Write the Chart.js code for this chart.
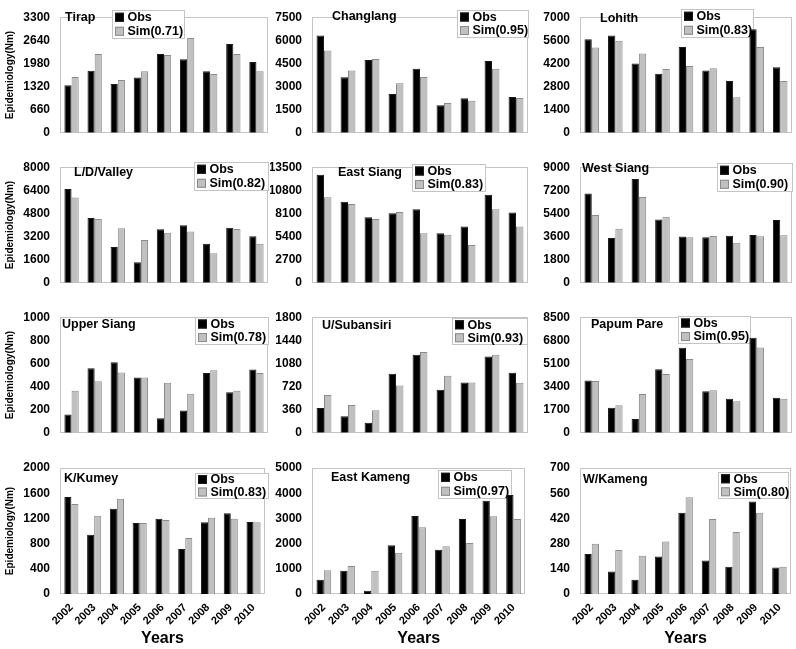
<!DOCTYPE html>
<html><head><meta charset="utf-8">
<script src="https://cdn.jsdelivr.net/npm/chart.js@4.4.0/dist/chart.umd.min.js"></script>
<style>
html,body{margin:0;padding:0;background:#fff;}
#wrap{position:relative;width:796px;height:649px;overflow:hidden;background:#fff;}
.cell{position:absolute;}
canvas{display:block;}
</style></head><body><div id="wrap"></div>
<script>
const years = ['2002','2003','2004','2005','2006','2007','2008','2009','2010'];
const districts = ['Tirap','Changlang','Lohith','L/D/Valley','East Siang','West Siang','Upper Siang','U/Subansiri','Papum Pare','K/Kumey','East Kameng','W/Kameng'];
const simR = ['0.71','0.95','0.83','0.82','0.83','0.90','0.78','0.93','0.95','0.83','0.97','0.80'];
const yMax = [3300,7500,7000,8000,13500,9000,1000,1800,8500,2000,5000,700];

const tirapObs = [1357,1768,1392,1576,2250,2101,1759,2538,2022];
const tirapSim = [1593,2250,1506,1759,2223,2705,1681,2250,1759];
const changlangObs = [6319,3602,4724,2520,4154,1791,2244,4665,2323];
const changlangSim = [5335,4035,4783,3209,3622,1929,2087,4154,2264];
const lohithObs = [5659,5898,4189,3583,5199,3766,3142,6265,3969];
const lohithSim = [5163,5567,4795,3858,4042,3913,2150,5199,3142];
const ldValleyObs = [6497,4487,2476,1418,3704,3979,2709,3810,3217];
const ldValleySim = [5905,4423,3767,2963,3471,3556,2053,3725,2709];
const eastSiangObs = [12605,9454,7663,8129,8594,5801,6589,10277,8200];
const eastSiangSim = [9991,9203,7448,8272,5801,5622,4405,8594,6589];
const westSiangObs = [6960,3480,8088,4920,3600,3552,3672,3720,4896];
const westSiangSim = [5280,4200,6672,5136,3552,3648,3120,3624,3696];
const upperSiangObs = [158,558,611,479,126,192,518,350,547];
const upperSiangSim = [363,447,521,479,434,337,542,363,518];
const uSubansiriObs = [385,256,157,921,1216,670,784,1187,936];
const uSubansiriSim = [589,432,351,736,1259,888,784,1216,779];
const papumPareObs = [3845,1844,1012,4677,6251,3058,2496,6993,2586];
const papumPareSim = [3800,2024,2856,4317,5419,3126,2316,6274,2496];
const kKumeyObs = [1540,942,1354,1127,1196,714,1138,1280,1143];
const kKumeySim = [1429,1243,1513,1127,1175,889,1212,1196,1138];
const eastKamengObs = [569,926,132,1931,3095,1759,2976,3704,3929];
const eastKamengSim = [939,1111,926,1640,2650,1892,2024,3082,2976];
const wKamengObs = [222,125,79,208,452,186,152,514,147];
const wKamengSim = [279,244,213,292,538,417,344,452,152];

const obsSeries = [tirapObs,changlangObs,lohithObs,ldValleyObs,eastSiangObs,westSiangObs,upperSiangObs,uSubansiriObs,papumPareObs,kKumeyObs,eastKamengObs,wKamengObs];
const simSeries = [tirapSim,changlangSim,lohithSim,ldValleySim,eastSiangSim,westSiangSim,upperSiangSim,uSubansiriSim,papumPareSim,kKumeySim,eastKamengSim,wKamengSim];

// layout (absolute page coordinates)
const cols = [{left:0,width:270,yw:60,rp:2},{left:270,width:260,yw:42,rp:2},{left:532,width:264,yw:48,rp:4}];
const rows = [{top:0,height:150,tp:8,xh:16},{top:150,height:150,tp:11,xh:13},{top:300,height:150,tp:13,xh:10},{top:445,height:204,tp:23,xh:55}];
const legendBoxes = [[112,10,72,28],[457,10,71,27],[681,9,72,28],[194,162,74,28],[412,164,73,27],[717,163,75,28],[195,317,73,27],[452,318,75,26],[678,316,72,27],[195,473,73,25],[438,470,73,28],[718,472,70,26]];
const namePos = [[65,18],[332,17],[600,19],[74,173],[338,173],[582,169],[62,325],[322,326],[591,325],[64,479],[331,478],[583,480]];

const FONT = '"Liberation Sans", Arial, Helvetica, sans-serif';

const panelPlugin = {
  id: 'panel',
  beforeDatasetsDraw(chart, args, o) {
    const ctx = chart.ctx, a = chart.chartArea;
    ctx.save();
    ctx.strokeStyle = '#c4c4c4'; ctx.lineWidth = 1;
    ctx.strokeRect(Math.round(a.left)+0.5, Math.round(a.top)+0.5, Math.round(a.right - a.left)-1, Math.round(a.bottom - a.top)-1);
    const [bx, by, bw, bh] = o.box;
    const lx = bx - o.ox, ly = by - o.oy;
    ctx.fillStyle = '#fff'; ctx.fillRect(lx, ly, bw, bh);
    ctx.strokeStyle = '#c4c4c4';
    ctx.strokeRect(lx+0.5, ly+0.5, bw, bh);
    ctx.font = 'bold 12.5px ' + FONT;
    ctx.textBaseline = 'middle'; ctx.textAlign = 'left';
    chart.data.datasets.forEach((ds, i) => {
      const cy = ly + bh * (0.26 + 0.5 * i);
      ctx.fillStyle = ds.backgroundColor;
      ctx.fillRect(lx + 3, cy - 4.5, 9, 9);
      ctx.strokeStyle = ds.borderColor;
      ctx.strokeRect(lx + 3.5, cy - 4, 8, 8);
      ctx.fillStyle = '#000';
      ctx.fillText(ds.label, lx + 15.5, cy + 0.5);
    });
    ctx.fillStyle = '#000';
    ctx.fillText(o.name, o.nx - o.ox, o.ny - o.oy);
    ctx.restore();
  }
};

const wrap = document.getElementById('wrap');
districts.forEach((name, idx) => {
  const c = cols[idx % 3], r = rows[Math.floor(idx / 3)];
  const isBottom = Math.floor(idx / 3) === 3, isLeft = idx % 3 === 0;
  const div = document.createElement('div');
  div.className = 'cell';
  div.style.left = c.left + 'px'; div.style.top = r.top + 'px';
  div.style.width = c.width + 'px'; div.style.height = r.height + 'px';
  const cv = document.createElement('canvas');
  cv.width = c.width; cv.height = r.height;
  cv.style.width = c.width + 'px'; cv.style.height = r.height + 'px';
  div.appendChild(cv); wrap.appendChild(div);
  new Chart(cv, {
    type: 'bar',
    data: {
      labels: years,
      datasets: [
        {label: 'Obs', data: obsSeries[idx], backgroundColor: '#000000', borderColor: '#1a1a1a', borderWidth: 1},
        {label: 'Sim(' + simR[idx] + ')', data: simSeries[idx], backgroundColor: '#c0c0c0', borderColor: '#8a8a8a', borderWidth: 1}
      ]
    },
    options: {
      responsive: false, animation: false,
      layout: {padding: {left: 0, right: c.rp, top: r.tp, bottom: 0}},
      datasets: {bar: {categoryPercentage: 0.62, barPercentage: 1.0}},
      plugins: {
        legend: {display: false}, tooltip: {enabled: false},
        panel: {name: name, box: legendBoxes[idx], nx: namePos[idx][0], ny: namePos[idx][1], ox: c.left, oy: r.top}
      },
      scales: {
        x: {
          grid: {display: false, drawTicks: false}, border: {display: false},
          ticks: {display: isBottom, minRotation: 45, maxRotation: 45, padding: 7, color: '#000', font: {family: FONT, size: 11, weight: 'bold'}},
          title: {display: isBottom, text: 'Years', color: '#000', font: {family: FONT, size: 16, weight: 'bold'}, padding: {top: 0, bottom: 1}},
          afterFit(s) { s.height = r.xh; }
        },
        y: {
          min: 0, max: yMax[idx],
          grid: {display: false, drawTicks: false}, border: {display: false},
          ticks: {stepSize: yMax[idx] / 5, padding: 10, color: '#000', font: {family: FONT, size: 12, weight: 'bold'}, callback: (v) => String(v)},
          title: {display: isLeft, text: 'Epidemiology(Nm)', color: '#000', font: {family: FONT, size: 10, weight: 'bold'}, padding: {top: 4, bottom: 0}},
          afterFit(s) { s.width = c.yw; }
        }
      }
    },
    plugins: [panelPlugin]
  });
});
</script></body></html>
